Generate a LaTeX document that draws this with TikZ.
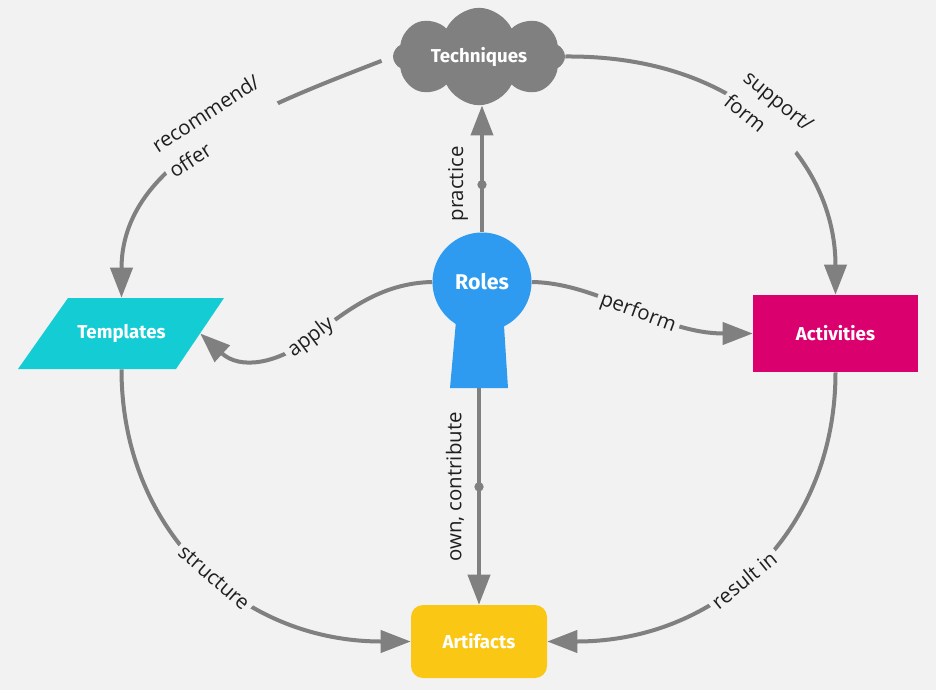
\documentclass[tikz,border=0pt]{standalone}
\usepackage{fontspec}
\setmainfont{Open Sans}
\newfontfamily\nodefont{Fira Sans}
\usetikzlibrary{shapes.geometric,shapes.symbols,arrows.meta}

\definecolor{bgc}{RGB}{242,242,242}
\definecolor{linkgray}{RGB}{128,128,128}
\definecolor{cloudgray}{RGB}{128,128,128}
\definecolor{rolesblue}{RGB}{46,155,240}
\definecolor{tplcyan}{RGB}{20,205,212}
\definecolor{actmagenta}{RGB}{218,0,110}
\definecolor{artyellow}{RGB}{250,200,20}

\begin{document}
\begin{tikzpicture}[x=0.75pt,y=-0.75pt,
  link/.style={draw=linkgray, line width=3pt},
  arr/.style={-{Triangle[length=22.5pt,width=16.5pt]}},
  lbl/.style={font=\fontsize{15.3}{23}\selectfont, text=black!88, fill=bgc, inner sep=3pt, align=left},
  title/.style={font=\nodefont\bfseries\fontsize{14}{17}\selectfont, text=white},
  dotmark/.style={circle, fill=linkgray, minimum size=7pt, inner sep=0pt}]

% canvas
\fill[bgc] (0,0) rectangle (936,690);

% concept nodes
\node[cloud, cloud puffs=8, cloud puff arc=130, cloud ignores aspect,
      minimum width=129pt, minimum height=73pt, fill=cloudgray, inner sep=0pt, title]
      (tech) at (479,56.5) {Techniques};

% keyhole: stem below the round head
\fill[rolesblue] (457,310) -- (503,310) -- (508,388) -- (450,388) -- cycle;
\node[circle, fill=rolesblue, minimum size=74.25pt, inner sep=0pt, title,
      font=\nodefont\bfseries\fontsize{16}{19}\selectfont]
      (roles) at (482,282) {Roles};
\coordinate (rolesfoot) at (479,388);

% parallelogram; the node spans the midline of its slanted sides
\fill[tplcyan] (68,298) -- (224,298) -- (176,369) -- (18,369) -- cycle;
\node[rectangle, minimum width=117.75pt, minimum height=53.25pt, inner sep=0pt, title]
      (tpl) at (121.5,333.5) {Templates};

\node[rectangle, fill=actmagenta, minimum width=123.75pt, minimum height=57.75pt, title]
      (act) at (835.5,333.5) {Activities};

\node[rectangle, rounded corners=9pt, fill=artyellow, minimum width=102pt, minimum height=54.75pt, title]
      (art) at (479,641.5) {Artifacts};

% connectors
\draw[link,arr,shorten <=9pt] (tech.west) .. controls (260,108) and (121.5,160) .. (tpl.north);
\draw[link,arr] (tech.east) .. controls (740,55) and (835.5,160) .. (act.north);
\draw[link,arr] (roles.north) -- node[dotmark,pos=0.375]{} (roles.north |- tech.south);
\draw[link,arr] (roles.west) .. controls (380,283) and (345,312) .. (311,338)
                .. controls (277,364) and (240,370) .. (tpl.east);
\draw[link,arr] (roles.east) .. controls (600,283) and (660,333.5) .. (act.west);
\draw[link,arr] (rolesfoot) -- node[dotmark,pos=0.456]{} (art.north);
\draw[link,arr] (tpl.south) .. controls (121.5,530) and (240,641.5) .. (art.west);
\draw[link,arr] (act.south) .. controls (835.5,530) and (720,641.5) .. (art.east);

% connector labels
\node[lbl, rotate=33] (lrec) at (214,126) {recommend/\\offer};
\node[lbl, rotate=-39] (lsup) at (769,113) {support/\\form};
\node[lbl, rotate=90, fill=none] (lprac) at (458,184) {practice};
\node[lbl, rotate=37] (lapp) at (311,338) {apply};
\node[lbl, rotate=-20] (lperf) at (638,313) {perform};
\node[lbl, rotate=90, fill=none] (lown) at (455,487) {own, contribute};
\node[lbl, rotate=-41] (lstr) at (214,578) {structure};
\node[lbl, rotate=39] (lres) at (744,580) {result in};
\end{tikzpicture}
\end{document}
